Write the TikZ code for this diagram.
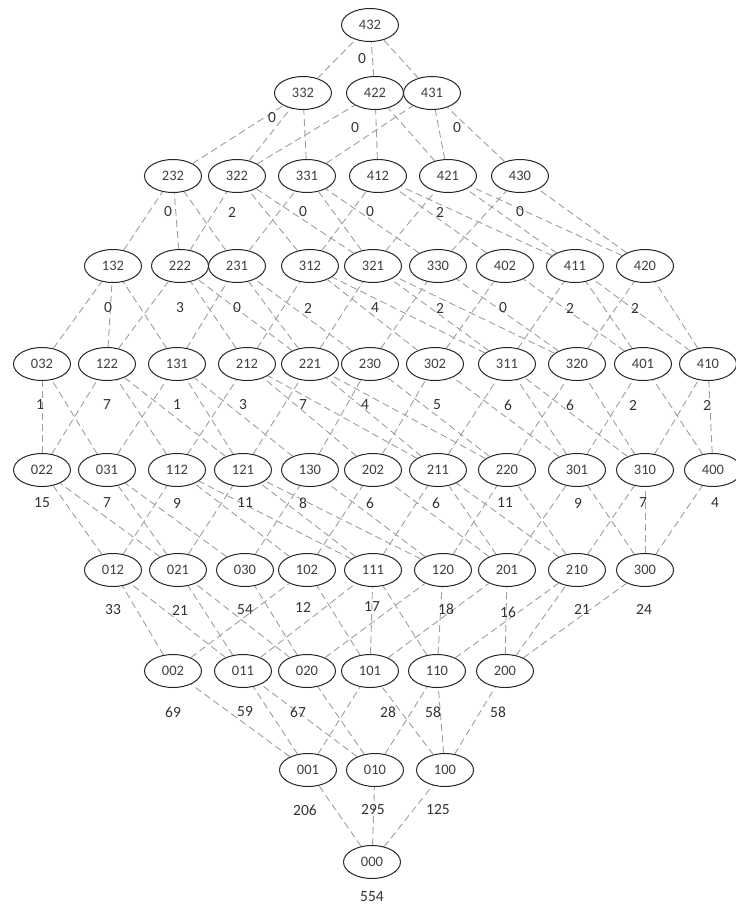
\documentclass[tikz,border=0pt]{standalone}
\usepackage{fontspec}
\setmainfont{Carlito}
\usetikzlibrary{shapes.geometric}
\begin{document}
\begin{tikzpicture}[x=1pt,y=-1pt,
  st/.style={draw=black!85, ellipse, minimum width=57pt, minimum height=33pt, inner sep=0pt, fill=white, font=\fontsize{14.5}{14.5}\selectfont, text=black!75, line width=1pt},
  val/.style={font=\fontsize{15.5}{16}\selectfont, text=black!80, inner sep=0pt},
  ln/.style={draw=black!38, dash pattern=on 7pt off 4pt, line width=0.9pt}]
\useasboundingbox (0,0) rectangle (736,906);
% row 9
\node[st] (n432) at (370,25) {432};
% row 8
\node[st] (n332) at (303,93) {332};
\node[st] (n422) at (375,93) {422};
\node[st] (n431) at (432,93) {431};
% row 7
\node[st] (n232) at (173,176) {232};
\node[st] (n322) at (237,176) {322};
\node[st] (n331) at (307,176) {331};
\node[st] (n412) at (378,176) {412};
\node[st] (n421) at (448,176) {421};
\node[st] (n430) at (520,176) {430};
% row 6
\node[st] (n132) at (113,266) {132};
\node[st] (n222) at (180,266) {222};
\node[st] (n231) at (237,266) {231};
\node[st] (n312) at (310,266) {312};
\node[st] (n321) at (373,266) {321};
\node[st] (n330) at (438,266) {330};
\node[st] (n402) at (505,266) {402};
\node[st] (n411) at (575,266) {411};
\node[st] (n420) at (645,266) {420};
% row 5
\node[st] (n032) at (42,364) {032};
\node[st] (n122) at (107,364) {122};
\node[st] (n131) at (177,364) {131};
\node[st] (n212) at (247,364) {212};
\node[st] (n221) at (310,364) {221};
\node[st] (n230) at (370,364) {230};
\node[st] (n302) at (435,364) {302};
\node[st] (n311) at (507,364) {311};
\node[st] (n320) at (577,364) {320};
\node[st] (n401) at (643,364) {401};
\node[st] (n410) at (708,364) {410};
% row 4
\node[st] (n022) at (42,470) {022};
\node[st] (n031) at (107,470) {031};
\node[st] (n112) at (177,470) {112};
\node[st] (n121) at (243,470) {121};
\node[st] (n130) at (310,470) {130};
\node[st] (n202) at (373,470) {202};
\node[st] (n211) at (438,470) {211};
\node[st] (n220) at (507,470) {220};
\node[st] (n301) at (577,470) {301};
\node[st] (n310) at (645,470) {310};
\node[st] (n400) at (713,470) {400};
% row 3
\node[st] (n012) at (113,570) {012};
\node[st] (n021) at (178,570) {021};
\node[st] (n030) at (245,570) {030};
\node[st] (n102) at (307,570) {102};
\node[st] (n111) at (373,570) {111};
\node[st] (n120) at (443,570) {120};
\node[st] (n201) at (507,570) {201};
\node[st] (n210) at (577,570) {210};
\node[st] (n300) at (645,570) {300};
% row 2
\node[st] (n002) at (173,671) {002};
\node[st] (n011) at (243,671) {011};
\node[st] (n020) at (307,671) {020};
\node[st] (n101) at (370,671) {101};
\node[st] (n110) at (437,671) {110};
\node[st] (n200) at (505,671) {200};
% row 1
\node[st] (n001) at (308,770) {001};
\node[st] (n010) at (375,770) {010};
\node[st] (n100) at (445,770) {100};
% row 0
\node[st] (n000) at (372,862) {000};

% edges (cover relations)
\foreach \a in {0,...,4}{
 \foreach \b in {0,...,3}{
  \foreach \c in {0,...,2}{
   \pgfmathtruncatemacro\na{\a+1}
   \pgfmathtruncatemacro\nb{\b+1}
   \pgfmathtruncatemacro\nc{\c+1}
   \ifnum\a<4 \draw[ln] (n\a\b\c) -- (n\na\b\c); \fi
   \ifnum\b<3 \draw[ln] (n\a\b\c) -- (n\a\nb\c); \fi
   \ifnum\c<2 \draw[ln] (n\a\b\c) -- (n\a\b\nc); \fi
  }}}

% values
\node[val] (v432) at (362,59) {0};
\node[val] (v332) at (272,118) {0};
\node[val] (v422) at (355,128) {0};
\node[val] (v431) at (457,128) {0};
\node[val] (v232) at (168,212) {0};
\node[val] (v322) at (232,212) {2};
\node[val] (v331) at (303,212) {0};
\node[val] (v412) at (370,212) {0};
\node[val] (v421) at (440,212) {2};
\node[val] (v430) at (520,212) {0};
\node[val] (v132) at (108,308) {0};
\node[val] (v222) at (180,308) {3};
\node[val] (v231) at (237,308) {0};
\node[val] (v312) at (308,308) {2};
\node[val] (v321) at (375,308) {4};
\node[val] (v330) at (440,308) {2};
\node[val] (v402) at (503,308) {0};
\node[val] (v411) at (570,308) {2};
\node[val] (v420) at (635,308) {2};
\node[val] (v032) at (40,405) {1};
\node[val] (v122) at (107,405) {7};
\node[val] (v131) at (177,405) {1};
\node[val] (v212) at (243,405) {3};
\node[val] (v221) at (303,405) {7};
\node[val] (v230) at (365,405) {4};
\node[val] (v302) at (437,405) {5};
\node[val] (v311) at (508,405) {6};
\node[val] (v320) at (570,405) {6};
\node[val] (v401) at (633,405) {2};
\node[val] (v410) at (707,405) {2};
\node[val] (v022) at (42,503) {15};
\node[val] (v031) at (107,503) {7};
\node[val] (v112) at (177,503) {9};
\node[val] (v121) at (245,503) {11};
\node[val] (v130) at (303,503) {8};
\node[val] (v202) at (370,503) {6};
\node[val] (v211) at (436,503) {6};
\node[val] (v220) at (505,503) {11};
\node[val] (v301) at (578,503) {9};
\node[val] (v310) at (643,503) {7};
\node[val] (v400) at (715,503) {4};
\node[val] (v012) at (113,610) {33};
\node[val] (v021) at (180,610) {21};
\node[val] (v030) at (245,610) {54};
\node[val] (v102) at (303,607) {12};
\node[val] (v111) at (372,607) {17};
\node[val] (v120) at (446,609) {18};
\node[val] (v201) at (508,612) {16};
\node[val] (v210) at (582,609) {21};
\node[val] (v300) at (644,609) {24};
\node[val] (v002) at (173,712) {69};
\node[val] (v011) at (245,712) {59};
\node[val] (v020) at (298,712) {67};
\node[val] (v101) at (388,712) {28};
\node[val] (v110) at (433,712) {58};
\node[val] (v200) at (498,712) {58};
\node[val] (v001) at (305,810) {206};
\node[val] (v010) at (373,810) {295};
\node[val] (v100) at (438,810) {125};
\node[val] (v000) at (372,897) {554};
\end{tikzpicture}
\end{document}
